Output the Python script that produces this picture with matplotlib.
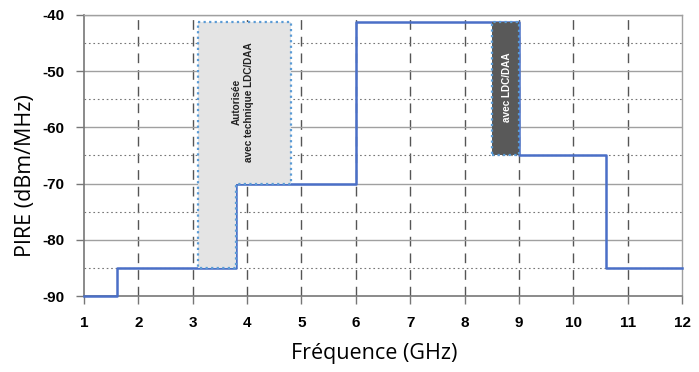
import matplotlib.pyplot as plt
from matplotlib.patches import Polygon, Rectangle

plt.rcParams["axes.unicode_minus"] = False

# masque PIRE (dBm/MHz) en fonction de la fréquence (GHz)
freq_edges = [1, 1.6, 3.8, 6, 9, 10.6, 12]
pire_levels = [-90, -85, -70, -41.3, -65, -85]

# zone autorisée avec technique LDC/DAA
ldc_x = [3.1, 4.8, 4.8, 3.8, 3.8, 3.1]
ldc_y = [-41.3, -41.3, -70, -70, -85, -85]

# bande avec LDC/DAA
daa_x0, daa_x1 = 8.5, 9.0
daa_y0, daa_y1 = -65, -41.3

x_ticks = list(range(1, 13))
y_ticks = [-90, -80, -70, -60, -50, -40]
y_minor = [-85, -75, -65, -55, -45]

fig = plt.figure(figsize=(6.99, 3.72), dpi=100)
ax = fig.add_axes([0.120, 0.204, 0.856, 0.756])

ax.set_xlim(1, 12)
ax.set_ylim(-90, -40)

# grille
for x in x_ticks[1:-1]:
    ax.axvline(x, color="#555555", lw=1, ls=(0, (7, 5)), zorder=1)
for y in y_ticks[1:]:
    ax.axhline(y, color="#a0a0a0", lw=1, zorder=1)
for y in y_minor:
    ax.axhline(y, color="#777777", lw=0.8, ls=(0, (1.5, 2.5)), zorder=1)

# masque
xs, ys = [], []
for i, lev in enumerate(pire_levels):
    xs += [freq_edges[i], freq_edges[i + 1]]
    ys += [lev, lev]
ax.plot(xs, ys, color="#4a6fc7", lw=1.8, zorder=6, clip_on=False)

# zones LDC/DAA
poly = Polygon(list(zip(ldc_x, ldc_y)), closed=True, facecolor="#e4e4e4",
               edgecolor="#5b9bd5", lw=1.6, ls=(0, (1, 1.5)), zorder=7)
ax.add_patch(poly)
ax.text(3.93, -55.5, "Autorisée\navec technique LDC/DAA", rotation=90,
        ha="center", va="center", fontsize=7.2, fontweight="bold",
        family="Liberation Sans", color="#222222", zorder=8, linespacing=1.3)

rect = Rectangle((daa_x0, daa_y0), daa_x1 - daa_x0, daa_y1 - daa_y0,
                 facecolor="#595959", edgecolor="#5b9bd5", lw=1.6,
                 ls=(0, (1, 1.5)), zorder=7)
ax.add_patch(rect)
ax.text(8.78, -52.8, "avec LDC/DAA", rotation=90, ha="center", va="center",
        fontsize=7.2, fontweight="bold", family="Liberation Sans",
        color="white", zorder=8)

# axes
ax.set_xticks(x_ticks)
ax.set_yticks(y_ticks)
ax.tick_params(direction="out", length=6, width=1, color="#777777", pad=8)
for lab in ax.get_xticklabels() + ax.get_yticklabels():
    lab.set_family("Liberation Sans")
    lab.set_fontweight("bold")
    lab.set_fontsize(11)
for side in ["left", "bottom"]:
    ax.spines[side].set_color("#777777")
    ax.spines[side].set_linewidth(1.2)
for side in ["top", "right"]:
    ax.spines[side].set_color("#a0a0a0")
    ax.spines[side].set_linewidth(1)

ax.set_xlabel("Fréquence (GHz)", fontsize=15.5, family="Open Sans")
ax.xaxis.set_label_coords(0.485, -0.165)
ax.set_ylabel("PIRE (dBm/MHz)", fontsize=15.5, family="Open Sans")
ax.yaxis.set_label_coords(-0.08, 0.427)

fig.savefig("out.png", dpi=100)
